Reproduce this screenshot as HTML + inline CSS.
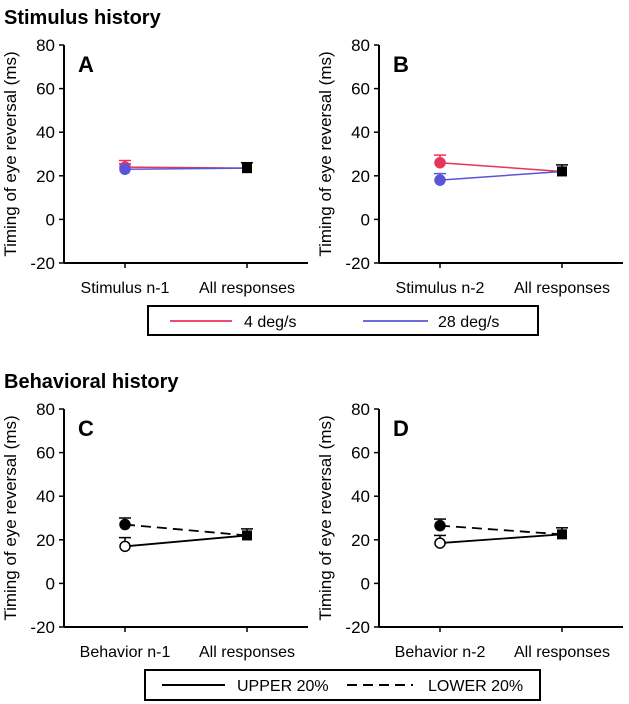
<!DOCTYPE html>
<html><head><meta charset="utf-8"><style>
body{margin:0;background:#fff;}
svg{display:block;font-family:"Liberation Sans",Arial,sans-serif;}
</style></head><body>
<svg id="fig" width="629" height="704" viewBox="0 0 629 704">
<text x="4" y="24" font-size="20" font-weight="bold">Stimulus history</text>
<text x="4" y="388" font-size="20" font-weight="bold">Behavioral history</text>
<g>
<rect x="148" y="306" width="390" height="29" fill="#fff" stroke="#000" stroke-width="2"/>
<line x1="170" y1="321" x2="232" y2="321" stroke="#e8335a" stroke-width="1.8"/>
<text x="244" y="327" font-size="16">4 deg/s</text>
<line x1="363" y1="321" x2="428" y2="321" stroke="#5a55d8" stroke-width="1.8"/>
<text x="438" y="327" font-size="16">28 deg/s</text>
</g>
<g>
<rect x="145" y="670" width="395" height="30" fill="#fff" stroke="#000" stroke-width="2"/>
<line x1="162" y1="685" x2="225" y2="685" stroke="#000" stroke-width="2"/>
<text x="237" y="691" font-size="16">UPPER 20%</text>
<line x1="347" y1="685" x2="413" y2="685" stroke="#000" stroke-width="2" stroke-dasharray="10,6"/>
<text x="428" y="691" font-size="16">LOWER 20%</text>
</g>
</svg>
<script>
const yTicks=[-20,0,20,40,60,80];
const panelLetters=['A','B','C','D'];
const catLabels=[['Stimulus n-1','All responses'],['Stimulus n-2','All responses'],['Behavior n-1','All responses'],['Behavior n-2','All responses']];
const series1=[[24,23.5],[26,22],[27,22],[26.5,22.5]];
const series1Err=[[3,2.5],[3.5,3],[3,3],[3,3]];
const series2=[[23,23.5],[18,22],[17,22],[18.5,22.5]];
const series2Err=[[2.5,2.5],[3,3],[4,3],[3.5,3]];
const NS='http://www.w3.org/2000/svg';
const svg=document.getElementById('fig');
function mk(t,a,p){const e=document.createElementNS(NS,t);for(const k in a)e.setAttribute(k,a[k]);(p||svg).appendChild(e);return e;}
const origins=[[64,45],[379,45],[64,409],[379,409]];
origins.forEach((o,i)=>{
  const ox=o[0],oy=o[1];
  const g=mk('g',{});
  
  
  const y=v=>oy+(80-v)*218/100;
  const xs=[ox+61,ox+183];
  const axEnd=ox+244;
  const ya=mk('line',{x1:ox,y1:y(80),x2:ox,y2:y(-20),stroke:'#000','stroke-width':2},g);
  
  const xa=mk('line',{x1:ox,y1:y(-20),x2:axEnd,y2:y(-20),stroke:'#000','stroke-width':2},g);
  
  yTicks.forEach(t=>{
    mk('line',{x1:ox-5,y1:y(t),x2:ox,y2:y(t),stroke:'#000','stroke-width':1.5},g);
    const tx=mk('text',{x:ox-9,y:y(t)+6,'font-size':17,'text-anchor':'end'},g);tx.textContent=t;
    
  });
  xs.forEach((xx,j)=>{
    mk('line',{x1:xx,y1:y(-20),x2:xx,y2:y(-20)+5,stroke:'#000','stroke-width':1.5},g);
    const tx=mk('text',{x:xx,y:y(-20)+30,'font-size':16,'text-anchor':'middle'},g);tx.textContent=catLabels[i][j];
    
  });
  const yl=mk('text',{x:0,y:0,'font-size':17,'text-anchor':'middle',transform:`translate(${ox-48},${y(30)}) rotate(-90)`},g);
  yl.textContent='Timing of eye reversal (ms)';
  
  const pl=mk('text',{x:ox+14,y:oy+27,'font-size':22,'font-weight':'bold'},g);pl.textContent=panelLetters[i];
  
  const stim=i<2;
  const c1=stim?'#e8335a':'#000', c2=stim?'#5a55d8':'#000';
  [[series1,series1Err,c1],[series2,series2Err,c2]].forEach(([s,e,c])=>{
    const top=y(s[i][0]+e[i][0]);
    mk('line',{x1:xs[0],y1:y(s[i][0]),x2:xs[0],y2:top,stroke:c,'stroke-width':1.5},g);
    mk('line',{x1:xs[0]-6,y1:top,x2:xs[0]+6,y2:top,stroke:c,'stroke-width':1.5},g);
  });
  const topA=y(series1[i][1]+series1Err[i][1]);
  mk('line',{x1:xs[1],y1:y(series1[i][1]),x2:xs[1],y2:topA,stroke:'#000','stroke-width':1.5},g);
  mk('line',{x1:xs[1]-6,y1:topA,x2:xs[1]+6,y2:topA,stroke:'#000','stroke-width':1.5},g);
  const l1=mk('line',{x1:xs[0],y1:y(series1[i][0]),x2:xs[1],y2:y(series1[i][1]),stroke:c1,'stroke-width':stim?1.5:1.8,'stroke-dasharray':stim?'none':'10,6'},g);
  
  const l2=mk('line',{x1:xs[0],y1:y(series2[i][0]),x2:xs[1],y2:y(series2[i][1]),stroke:c2,'stroke-width':stim?1.5:1.8},g);
  
  const p1=mk('circle',{cx:xs[0],cy:y(series1[i][0]),r:5,fill:c1,stroke:c1,'stroke-width':1.5},g);
  
  const p2=mk('circle',{cx:xs[0],cy:y(series2[i][0]),r:5,fill:stim?c2:'#fff',stroke:c2,'stroke-width':1.5},g);
  
  const sq=mk('rect',{x:xs[1]-5,y:y(series1[i][1])-5,width:10,height:10,fill:'#000'},g);
  
});
</script>
</body></html>
